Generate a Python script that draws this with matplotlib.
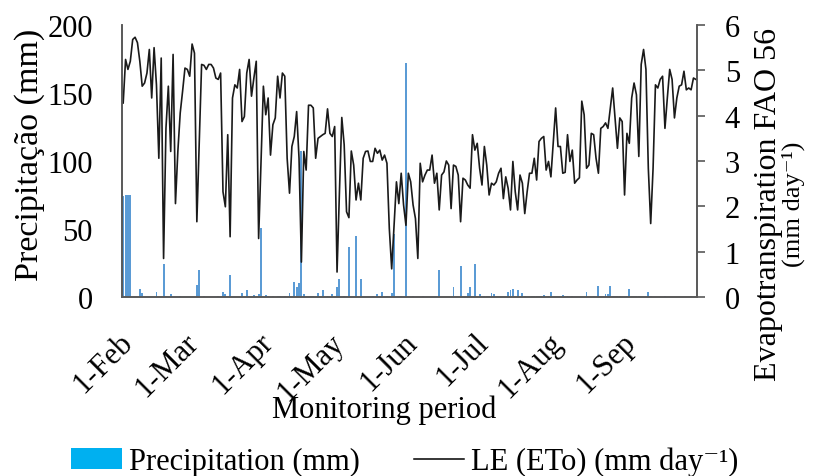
import matplotlib
matplotlib.use("Agg")
import matplotlib.pyplot as plt
import matplotlib.transforms as mtransforms
from matplotlib.lines import Line2D
from matplotlib.patches import Patch

plt.rcParams["font.family"] = ["Liberation Serif", "DejaVu Serif"]
plt.rcParams["font.size"] = 22

# days counted from 1 Feb (day 0) to 30 Sep (day 241)
n_days = 242
month_start = [0, 28, 59, 89, 120, 150, 181, 212]
month_labels = ["1-Feb", "1-Mar", "1-Apr", "1-May", "1-Jun", "1-Jul", "1-Aug", "1-Sep"]

# rainy days only (mm)
rain_day = [0, 1, 2, 3, 7, 8, 14, 17, 18, 20, 24, 31, 32, 34, 40, 42, 43, 45,
            50, 52, 55, 57, 58, 60, 61, 63, 65, 66, 68, 70, 72, 73, 74, 75, 76,
            79, 80, 82, 84, 86, 88, 90, 91, 93, 95, 98, 100, 105, 107, 109, 111,
            113, 114, 117, 119, 122, 126, 133, 139, 142, 145, 146, 148, 150, 151,
            152, 153, 154, 155, 156, 162, 163, 164, 166, 168, 169, 172, 173, 174,
            175, 176, 177, 179, 180, 185, 187, 189, 195, 198, 200, 203, 204, 205,
            206, 207, 208, 209, 212, 213, 214, 215, 216, 217, 221, 222, 228, 239]
rain_mm = [74, 75, 75, 75, 6, 3, 4, 24, 1, 2, 1, 9, 20, 1, 1, 4, 2, 16,
           3, 5, 1.5, 2, 51, 1.5, 1, 1, 1, 1, 1, 3, 11, 7, 10, 107, 2,
           1, 1, 3, 5, 1, 2, 7, 13, 1, 37, 45, 13, 1, 2, 4, 1,
           3, 46, 1, 172, 1, 1, 20, 7, 23, 3, 7, 24, 2, 0.5,
           0.5, 0.5, 0.5, 3, 2, 4, 5, 6, 5, 3, 1, 1, 1, 1,
           1, 1, 1.5, 1, 3.5, 1.5, 1, 0.5, 3.5, 1, 8, 2, 2, 8,
           1, 1, 1, 1, 1, 6, 1, 1, 1, 1, 4, 1, 0.5, 0.5]

# reference evapotranspiration (mm/day), one value per day
eto = [4.28, 5.24, 5.02, 5.20, 5.68, 5.73, 5.61, 5.20, 4.65, 4.72,
       4.94, 5.46, 4.39, 5.50, 4.68, 3.06, 5.27, 0.85, 3.72, 4.65,
       3.21, 5.35, 2.06, 3.21, 4.06, 4.54, 5.05, 5.02, 4.87, 5.58,
       5.38, 1.66, 3.43, 5.13, 5.11, 5.02, 5.13, 5.13, 5.05, 4.83,
       4.80, 4.94, 2.32, 1.99, 3.58, 1.33, 4.39, 4.68, 4.61, 5.02,
       3.87, 3.98, 4.94, 5.24, 4.43, 4.83, 5.20, 1.29, 3.00, 4.65,
       4.02, 4.39, 3.13, 3.80, 3.95, 4.87, 4.39, 4.94, 4.87, 3.06,
       2.29, 3.32, 3.54, 4.09, 3.06, 0.77, 3.21, 2.80, 4.23, 4.23,
       4.17, 3.06, 3.50, 3.54, 3.58, 3.61, 4.15, 3.61, 3.54, 3.76,
       0.55, 2.30, 3.96, 3.36, 1.88, 1.75, 3.22, 2.91, 2.14, 2.51,
       2.14, 3.06, 3.21, 3.22, 2.99, 2.99, 3.28, 3.17, 3.24, 3.02,
       3.13, 2.95, 1.51, 0.62, 1.58, 2.54, 2.06, 2.73, 2.03, 1.58,
       2.73, 2.54, 2.03, 1.73, 0.85, 2.95, 2.54, 2.69, 2.80, 2.80,
       3.13, 2.51, 2.73, 1.92, 2.69, 2.76, 3.00, 2.91, 1.95, 2.91,
       2.88, 2.69, 1.66, 2.62, 2.58, 2.47, 2.40, 3.58, 3.24, 3.39,
       2.84, 2.47, 3.32, 2.91, 2.25, 2.51, 2.47, 2.54, 2.73, 2.84,
       2.17, 2.65, 2.40, 1.92, 2.99, 2.32, 1.92, 2.69, 2.51, 1.84,
       2.32, 2.73, 2.73, 3.06, 2.58, 3.43, 3.50, 3.54, 2.80, 2.99,
       2.65, 3.40, 4.17, 3.32, 3.32, 2.73, 2.75, 3.58, 2.99, 3.24,
       2.51, 2.58, 2.63, 4.32, 4.02, 2.84, 2.91, 3.61, 3.58, 3.06,
       2.73, 3.72, 3.76, 3.84, 3.72, 4.17, 4.61, 3.95, 3.28, 3.95,
       3.87, 2.25, 3.61, 3.39, 4.39, 4.72, 4.46, 3.10, 5.13, 5.46,
       5.02, 2.84, 1.62, 2.84, 4.68, 4.61, 4.80, 4.87, 3.72, 4.39,
       5.02, 4.80, 3.95, 4.39, 4.65, 4.68, 4.98, 4.57, 4.61, 4.57,
       4.83, 4.80]

bar_color = "#5B9BD5"
legend_color = "#00B0F0"
spine_color = "#595959"

fig = plt.figure(figsize=(8.21, 4.77), dpi=100)
ax = fig.add_axes([0.1486, 0.3753, 0.7004, 0.5702])
ax2 = ax.twinx()

ax.bar(rain_day, rain_mm, width=0.8, color=bar_color, linewidth=0, zorder=2)
ax2.plot(range(n_days), eto, color="#1a1a1a", linewidth=1.2)

ax.set_xlim(-0.5, n_days - 0.5)
ax.set_ylim(0, 200)
ax.set_yticks([0, 50, 100, 150, 200])
ax2.set_ylim(0, 6)
ax2.set_yticks(range(7))

for a in (ax, ax2):
    a.spines["top"].set_visible(False)
    for s in ("left", "right", "bottom"):
        a.spines[s].set_color(spine_color)
        a.spines[s].set_linewidth(1.2)

ax.tick_params(axis="y", which="major", length=0, pad=21)
ax2.yaxis.set_tick_params(which="major", direction="out", length=6, width=1.2,
                          color=spine_color, pad=14, left=False, right=True,
                          labelleft=False, labelright=True)

ax.set_xticks(month_start)
ax.set_xticklabels(month_labels, rotation=45, ha="right", va="top",
                   rotation_mode="anchor")
ax.tick_params(axis="x", length=0, pad=22)
shift = mtransforms.ScaledTranslation(-4 / 72, 0, fig.dpi_scale_trans)
for lbl in ax.get_xticklabels():
    lbl.set_transform(lbl.get_transform() + shift)

ax.set_ylabel("Precipitação (mm)", fontsize=24.5)
ax.yaxis.set_label_coords(-0.134, 0.526)
# right axis title: two lines, the second one is narrower in the original
ax2.text(1.1235, 0.345, "Evapotranspiration FAO 56", transform=ax2.transAxes,
         rotation=90, ha="center", va="center", fontsize=23)
ax2.text(1.168, 0.343, "(mm day\u207b\u00b9)", transform=ax2.transAxes,
         rotation=90, ha="center", va="center", fontsize=19)

ax.set_xlabel("Monitoring period")
ax.xaxis.set_label_coords(0.456, -0.36)

handles = [Patch(facecolor=legend_color, edgecolor="none"),
           Line2D([], [], color="black", linewidth=1.1)]
fig.legend(handles, ["Precipitation (mm)", "LE (ETo) (mm day\u207b\u00b9)"],
           loc="center", bbox_to_anchor=(0.493, 0.03), ncol=2, frameon=False,
           handlelength=1.64, handletextpad=0.23, columnspacing=1.77,
           borderpad=0, borderaxespad=0)

fig.savefig("out.png", dpi=100)
plt.close(fig)
